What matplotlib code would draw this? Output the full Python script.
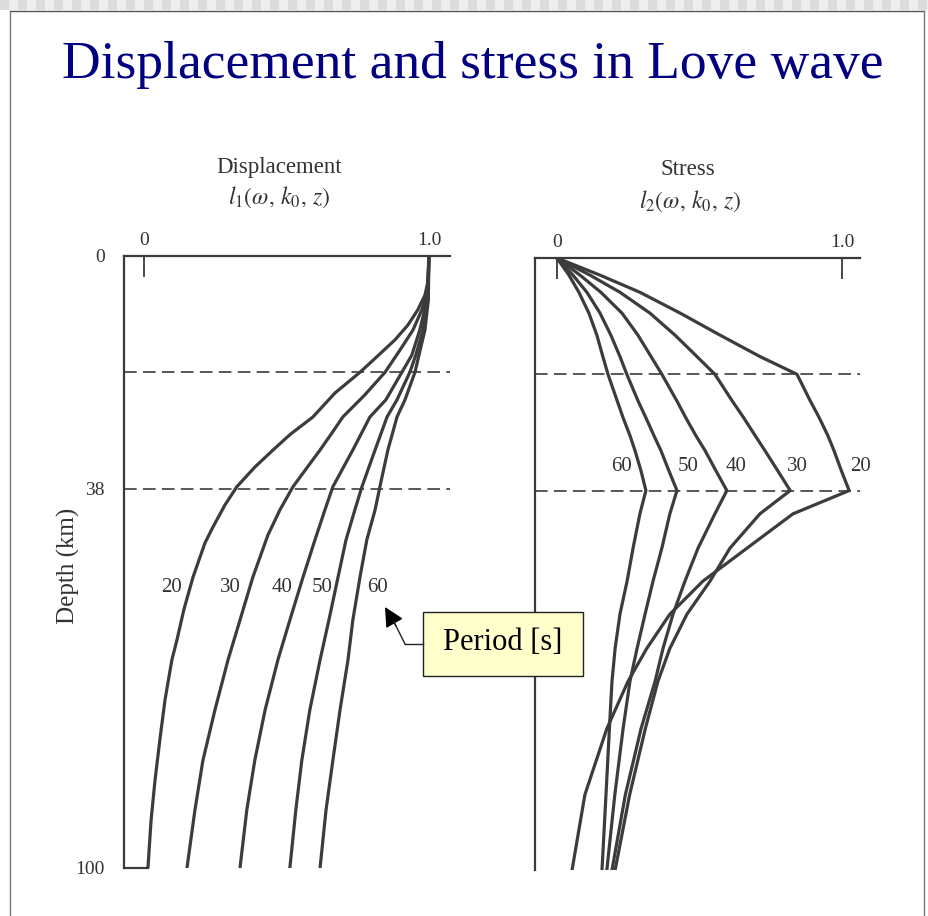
import matplotlib
matplotlib.use("Agg")
import matplotlib.pyplot as plt
from matplotlib.lines import Line2D
from matplotlib.patches import Rectangle

plt.rcParams['font.family'] = ['Liberation Serif', 'DejaVu Serif']
plt.rcParams['mathtext.fontset'] = 'stix'

W, H = 929, 916

# periods (s)
periods = [20, 30, 40, 50, 60]
layer_depths = [19, 38]          # km, dashed interfaces
depth_ticks = [0, 38, 100]

# displacement l1 vs depth (km)
disp_depth = {
    20: [0, 3.9, 6.4, 8.8, 11.3, 13.7, 16.3, 19, 22.4, 26.3, 29.2, 31.7, 34.5, 37.7,
         40.7, 44.3, 46.9, 52.5, 57.8, 62.7, 66, 72.5, 79, 85.6, 92.2, 100],
    30: [0, 5.6, 8.8, 12.1, 15.4, 19, 22.7, 26.3, 28.9, 31.7, 34.6, 37.7,
         41.5, 45.6, 52.5, 59.5, 66, 74.2, 82.4, 90.5, 100],
    40: [0, 7.2, 12.1, 16.2, 19, 23.5, 26.3, 31.7, 37.7,
         41.5, 46.4, 52.5, 59.5, 66, 74.2, 82.4, 90.5, 100],
    50: [0, 7.2, 12.1, 16.2, 19, 23.5, 26.3, 31.7, 37.7,
         41.5, 46.4, 52.5, 59.5, 66, 74.2, 82.4, 90.5, 100],
    60: [0, 7.2, 12.1, 16.2, 19, 23.5, 26.3, 31.7, 37.7,
         41.5, 46.4, 52.5, 59.5, 66, 74.2, 82.4, 90.5, 100],
}
disp_val = {
    20: [1.0, 0.998, 0.986, 0.961, 0.926, 0.881, 0.821, 0.758, 0.670, 0.593, 0.512, 0.453, 0.389, 0.326,
         0.284, 0.242, 0.214, 0.172, 0.140, 0.116, 0.098, 0.074, 0.056, 0.039, 0.025, 0.014],
    30: [1.0, 0.996, 0.975, 0.944, 0.898, 0.846, 0.775, 0.698, 0.660, 0.618, 0.572, 0.523,
         0.477, 0.435, 0.382, 0.337, 0.295, 0.249, 0.207, 0.179, 0.151],
    40: [1.0, 0.993, 0.968, 0.940, 0.905, 0.849, 0.793, 0.733, 0.663,
         0.635, 0.600, 0.558, 0.512, 0.470, 0.425, 0.389, 0.361, 0.337],
    50: [1.0, 0.996, 0.979, 0.954, 0.933, 0.888, 0.853, 0.811, 0.765,
         0.740, 0.709, 0.681, 0.649, 0.618, 0.582, 0.554, 0.533, 0.512],
    60: [1.0, 0.998, 0.986, 0.965, 0.951, 0.916, 0.888, 0.856, 0.828,
         0.811, 0.782, 0.758, 0.733, 0.716, 0.688, 0.663, 0.639, 0.618],
}

# stress l2 vs depth (km)
str_depth_top = [0, 2.8, 5.6, 9.0, 12.6, 16.1, 19, 23.3, 26.1, 29, 31.5, 34.8, 38]
str_depth_low = [41.8, 47.4, 52.8, 58.2, 63.8, 69.2, 76.9, 87.7, 100]
str_val_top = {
    20: [0, 0.151, 0.291, 0.432, 0.572, 0.712, 0.842, 0.888, 0.920, 0.950, 0.972, 0.998, 1.025],
    30: [0, 0.116, 0.221, 0.326, 0.414, 0.491, 0.554, 0.614, 0.655, 0.695, 0.730, 0.775, 0.818],
    40: [0, 0.081, 0.154, 0.228, 0.284, 0.330, 0.368, 0.420, 0.452, 0.487, 0.520, 0.558, 0.596],
    50: [0, 0.056, 0.105, 0.151, 0.189, 0.221, 0.245, 0.284, 0.312, 0.340, 0.365, 0.393, 0.421],
    60: [0, 0.042, 0.077, 0.112, 0.140, 0.161, 0.179, 0.211, 0.232, 0.256, 0.274, 0.295, 0.312],
}
str_val_low = {
    20: [0.828, 0.667, 0.512, 0.396, 0.315, 0.249, 0.175, 0.098, 0.053],
    30: [0.712, 0.607, 0.537, 0.456, 0.396, 0.354, 0.310, 0.255, 0.204],
    40: [0.554, 0.495, 0.449, 0.407, 0.372, 0.344, 0.295, 0.240, 0.193],
    50: [0.396, 0.368, 0.337, 0.309, 0.281, 0.256, 0.232, 0.203, 0.175],
    60: [0.291, 0.267, 0.246, 0.221, 0.204, 0.193, 0.184, 0.172, 0.158],
}

disp_lab_x = [0.098, 0.305, 0.484, 0.625, 0.821]
str_lab_x = [1.065, 0.845, 0.63, 0.46, 0.225]

line_col = '#3c3c3c'
axis_col = '#3a3a3a'
text_col = '#333333'


def fx(px):
    return px / W


def fy(py):
    return 1 - py / H


fig = plt.figure(figsize=(W / 100, H / 100), dpi=100)

# slide frame
fig.add_artist(Rectangle((0, fy(10)), 1, 10 / H, transform=fig.transFigure,
                         facecolor='#eeeeee', edgecolor='none'))
for i in range(0, W, 18):
    fig.add_artist(Rectangle((fx(i), fy(10)), 9 / W, 10 / H, transform=fig.transFigure,
                             facecolor='#dcdcdc', edgecolor='none'))
fig.add_artist(Line2D([fx(10), fx(924)], [fy(11), fy(11)], color='#555555', lw=1.0))
fig.add_artist(Line2D([fx(10), fx(10)], [fy(11), 0], color='#777777', lw=1.0))
fig.add_artist(Line2D([fx(924), fx(924)], [fy(11), 0], color='#777777', lw=1.0))

fig.text(fx(473), fy(65), "Displacement and stress in Love wave", color='#000080',
         fontsize=38.5, ha='center', va='center')

axL = fig.add_axes([fx(124), fy(868), (450 - 124) / W, (868 - 256) / H])
axR = fig.add_axes([fx(535), fy(870), (860 - 535) / W, (870 - 258) / H])
axL.set_xlim(-0.07, 1.074)
axR.set_xlim(-0.077, 1.063)

for ax in (axL, axR):
    ax.set_ylim(100, 0)
    ax.patch.set_alpha(0)
    for s in ('right', 'bottom'):
        ax.spines[s].set_visible(False)
    for s in ('left', 'top'):
        ax.spines[s].set_color(axis_col)
        ax.spines[s].set_linewidth(1.6)
    ax.xaxis.tick_top()
    ax.set_xticks([0, 1.0])
    ax.set_xticklabels(['0', '1.0'])
    ax.tick_params(axis='x', direction='in', length=15, width=1.3, color=axis_col,
                   labelsize=14, pad=5, labelcolor=text_col)
    for d in layer_depths:
        ax.axhline(d, color='#4a4a4a', lw=1.3, ls=(0, (7, 3.5)))

axL.set_yticks(depth_ticks)
axL.set_yticklabels([str(d) for d in depth_ticks])
axL.tick_params(axis='y', length=0, labelsize=14, pad=14, labelcolor=text_col)
axR.set_yticks([])
fig.text(fx(68), fy(566), "Depth (km)", rotation=90, fontsize=18, ha='center', va='center',
         color=text_col)

for p in periods:
    axL.plot(disp_val[p], disp_depth[p], color=line_col, lw=2.3, solid_joinstyle='round')
    axR.plot(str_val_top[p] + str_val_low[p], str_depth_top + str_depth_low,
             color=line_col, lw=2.3, solid_joinstyle='round')

# closing line at the bottom of the displacement panel
axL.plot([axL.get_xlim()[0], disp_val[20][-1]], [100, 100], color=axis_col, lw=1.6,
         clip_on=False)

# period labels
for p, x in zip(periods, disp_lab_x):
    axL.text(x, 54.2, str(p), fontsize=15, ha='center', va='center', color=text_col)
for p, x in zip(periods, str_lab_x):
    axR.text(x, 34, str(p), fontsize=15, ha='center', va='center', color=text_col)

# panel headings
fig.text(fx(279), fy(168), "Displacement", fontsize=16.5, ha='center', va='center', color=text_col)
fig.text(fx(279), fy(197), r"$l_1(\omega,\, k_0,\, z)$", fontsize=17, ha='center', va='center',
         color=text_col)
fig.text(fx(688), fy(170), "Stress", fontsize=16.5, ha='center', va='center', color=text_col)
fig.text(fx(690), fy(201), r"$l_2(\omega,\, k_0,\, z)$", fontsize=17, ha='center', va='center',
         color=text_col)

# Period [s] callout
fig.add_artist(Rectangle((fx(423), fy(676)), 160 / W, 64 / H, transform=fig.transFigure,
                         facecolor='#ffffcc', edgecolor='#222222', lw=1.0))
fig.text(fx(503), fy(642), "Period [s]", fontsize=22, ha='center', va='center', color='black')
fig.add_artist(Line2D([fx(423), fx(405)], [fy(644), fy(644)], color='#222222', lw=1.0))
fig.add_artist(Line2D([fx(405), fx(394)], [fy(644), fy(622)], color='#222222', lw=1.0))
axL.annotate("", xy=(fx(385), fy(607)), xycoords='figure fraction',
             xytext=(fx(396), fy(626)), textcoords='figure fraction',
             arrowprops=dict(arrowstyle='-|>,head_length=1.2,head_width=0.6', color='black',
                             lw=1.0, shrinkA=0, shrinkB=0))

fig.savefig("out.png", dpi=100)
